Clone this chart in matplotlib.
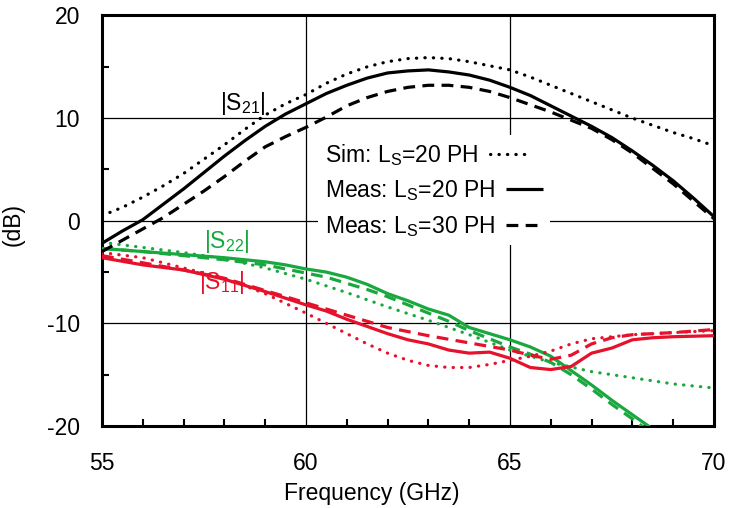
import matplotlib
matplotlib.use("Agg")
import matplotlib.pyplot as plt
from matplotlib.ticker import MultipleLocator

plt.rcParams['font.family'] = ['Liberation Sans', 'DejaVu Sans']
plt.rcParams['mathtext.default'] = 'regular'
plt.rcParams['axes.unicode_minus'] = False

GREEN = '#18a83e'
RED = '#e6112b'

# |S21| (dB)
f_s21_sim = [55, 55.5, 56, 56.5, 57, 57.5, 58, 58.5, 59, 59.5, 60, 60.5, 61, 61.5, 62, 62.5,
             63, 63.5, 64, 64.5, 65, 65.5, 66, 66.5, 67, 67.5, 68, 68.5, 69, 69.5, 70]
s21_sim = [0.5, 1.3, 2.3, 3.4, 4.6, 6.0, 7.4, 8.9, 10.3, 11.4, 12.3, 13.4, 14.3, 15.0, 15.5, 15.8,
           15.9, 15.8, 15.5, 15.1, 14.7, 14.0, 13.2, 12.4, 11.6, 10.8, 10.0, 9.3, 8.6, 8.0, 7.3]
f_s21_m20 = f_s21_sim
s21_m20 = [-2.2, -1.0, 0.1, 1.6, 3.1, 4.7, 6.3, 7.8, 9.2, 10.4, 11.4, 12.4, 13.2, 13.9, 14.4, 14.6,
           14.7, 14.5, 14.2, 13.7, 13.0, 12.2, 11.2, 10.2, 9.2, 8.1, 6.8, 5.4, 3.9, 2.2, 0.4]
f_s21_m30 = f_s21_sim
s21_m30 = [-3.0, -1.9, -0.8, 0.3, 1.6, 2.9, 4.3, 5.8, 7.2, 8.2, 9.1, 10.1, 11.2, 12.0, 12.6, 13.0,
           13.2, 13.2, 13.0, 12.6, 12.0, 11.3, 10.6, 9.8, 9.0, 7.9, 6.6, 5.1, 3.6, 1.9, 0.2]

# |S22| (dB)
f_s22_sim = [55, 56, 57, 58, 59, 60, 61, 62, 63, 64, 65, 65.5, 66, 67, 68, 69, 70]
s22_sim = [-2.1, -2.6, -3.1, -3.7, -4.6, -5.7, -7.0, -8.4, -9.7, -11.1, -12.6, -13.2, -13.8,
           -14.7, -15.3, -15.9, -16.3]
f_s22_m20 = [55, 56, 57, 58, 59, 59.5, 60, 60.5, 61, 61.5, 62, 62.5, 63, 63.5, 64, 64.5, 65,
             65.5, 66, 66.5, 67, 67.5, 68, 68.5]
s22_m20 = [-2.7, -3.0, -3.3, -3.6, -4.0, -4.3, -4.7, -5.0, -5.5, -6.2, -7.1, -7.8, -8.6, -9.2,
           -10.4, -11.0, -11.6, -12.3, -13.2, -14.6, -16.0, -17.5, -18.9, -20.3]
f_s22_m30 = [55, 56, 57, 58, 59, 60, 60.5, 61, 61.5, 62, 62.5, 63, 63.5, 64, 64.5, 65, 65.5,
             66, 66.5, 67, 67.5, 68, 68.3]
s22_m30 = [-2.7, -3.0, -3.4, -3.8, -4.3, -5.1, -5.5, -6.1, -6.7, -7.4, -8.2, -9.0, -9.8, -10.7,
           -11.5, -12.3, -13.0, -13.8, -15.0, -16.4, -17.9, -19.3, -20.2]

# |S11| (dB)
f_s11_sim = [55, 56, 57, 58, 59, 60, 61, 61.5, 62, 62.5, 63, 63.5, 64, 64.5, 65, 65.5, 66,
             66.5, 67, 68, 69, 70]
s11_sim = [-3.1, -3.6, -4.6, -5.6, -7.1, -9.0, -11.0, -12.0, -12.9, -13.6, -14.1, -14.3, -14.3,
           -14.0, -13.6, -13.2, -12.7, -12.0, -11.5, -11.1, -10.9, -10.7]
f_s11_m20 = [55, 56, 57, 58, 59, 60, 60.5, 61, 61.5, 62, 62.5, 63, 63.5, 64, 64.5, 65, 65.5,
             66, 66.5, 67, 67.5, 68, 68.5, 69, 70]
s11_m20 = [-3.6, -4.3, -4.8, -5.7, -6.9, -8.2, -8.8, -9.6, -10.3, -11.0, -11.6, -12.0, -12.6,
           -12.9, -12.8, -13.4, -14.3, -14.5, -14.2, -12.9, -12.4, -11.6, -11.4, -11.3, -11.2]
f_s11_m30 = [55, 56, 57, 58, 59, 60, 61, 62, 63, 64, 65, 65.5, 66, 66.5, 67, 67.5, 68, 69, 70]
s11_m30 = [-3.4, -4.1, -4.8, -5.6, -6.8, -8.0, -9.2, -10.4, -11.2, -11.9, -12.6, -13.1, -13.5,
           -13.1, -12.0, -11.4, -11.1, -10.9, -10.6]

legend_labels = ['Sim: L$_S$=20 PH', 'Meas: L$_S$=20 PH', 'Meas: L$_S$=30 PH']

FS = 16.5
LW = 2.3
DOT = (0, (0.1, 2.55))
DASH = (0, (3.7, 2.3))

fig = plt.figure(figsize=(7.31, 5.08), dpi=100)
ax = fig.add_axes([0.1395, 0.1614, 0.8372, 0.8081])

solid_kw = dict(lw=LW, ls='-', solid_capstyle='butt', zorder=3)
dot_kw = dict(lw=LW, ls=DOT, dash_capstyle='round', zorder=3)
dash_kw = dict(lw=LW, ls=DASH, dash_capstyle='butt', zorder=3)

# S11 and S22 traces
ax.plot(f_s22_sim, s22_sim, color=GREEN, **dot_kw)
ax.plot(f_s22_m30, s22_m30, color=GREEN, **dash_kw)
ax.plot(f_s22_m20, s22_m20, color=GREEN, **solid_kw)
ax.plot(f_s11_sim, s11_sim, color=RED, **dot_kw)
ax.plot(f_s11_m30, s11_m30, color=RED, **dash_kw)
ax.plot(f_s11_m20, s11_m20, color=RED, **solid_kw)

# S21 traces (also used for the legend)
h1, = ax.plot(f_s21_sim, s21_sim, color='black', **dot_kw)
h2, = ax.plot(f_s21_m20, s21_m20, color='black', **solid_kw)
h3, = ax.plot(f_s21_m30, s21_m30, color='black', **dash_kw)

ax.set_xlim(55, 70)
ax.set_ylim(-20, 20)
ax.xaxis.set_major_locator(MultipleLocator(5))
ax.xaxis.set_minor_locator(MultipleLocator(1))
ax.yaxis.set_major_locator(MultipleLocator(10))
ax.yaxis.set_minor_locator(MultipleLocator(5))
ax.grid(True, which='major', color='black', lw=0.9, zorder=1)
ax.set_axisbelow(True)

ax.tick_params(which='both', direction='in', labelsize=FS, top=False, right=False)
ax.tick_params(axis='x', which='major', length=0, pad=19)
ax.tick_params(axis='x', which='minor', length=5, width=1.5)
ax.tick_params(axis='y', which='major', length=0, pad=16)
ax.tick_params(axis='y', which='minor', length=5, width=1.5)
for s in ax.spines.values():
    s.set_linewidth(2.2)

ax.set_xlabel('Frequency (GHz)', fontsize=FS)
ax.xaxis.set_label_coords(0.441, -0.137)
ax.set_ylabel('(dB)', fontsize=FS, labelpad=12)
ax.yaxis.set_label_coords(-0.127, 0.49)

ax.text(58.45, 11.4, '|S$_{21}$|', fontsize=FS, color='black', ha='center', va='center', zorder=4)
ax.text(58.05, -2.0, '|S$_{22}$|', fontsize=FS, color=GREEN, ha='center', va='center', zorder=4)
ax.text(57.95, -6.0, '|S$_{11}$|', fontsize=FS, color=RED, ha='center', va='center', zorder=4)

leg = ax.legend([h1, h2, h3], legend_labels, markerfirst=False, fontsize=FS,
                loc='upper left', bbox_to_anchor=(0.334, 0.736), frameon=True,
                facecolor='white', edgecolor='none', framealpha=1, fancybox=False,
                handlelength=1.6, handletextpad=0.5, labelspacing=0.45, borderpad=0.3)
# entries left-aligned, each sample line right after its own label
for column in leg._legend_handle_box.get_children():
    column.align = 'left'

fig.savefig('out.png', dpi=100)
